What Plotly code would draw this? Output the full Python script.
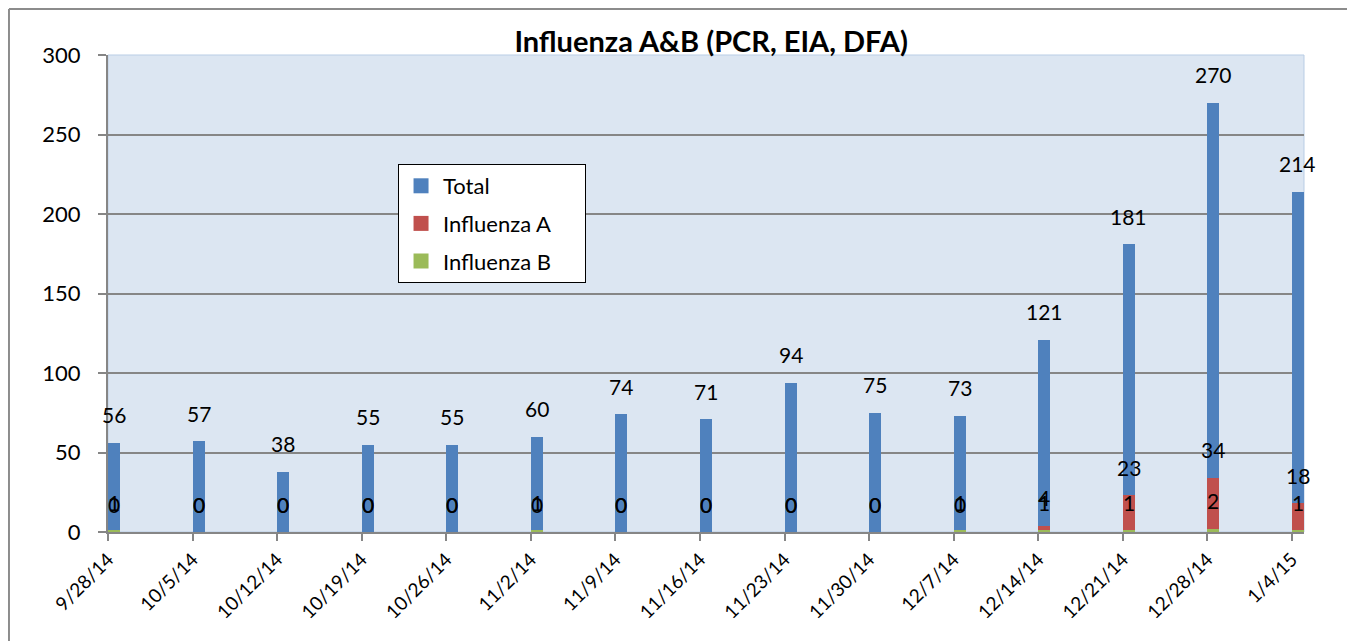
import plotly.graph_objects as go
import pandas as pd

# weekly data
weeks = ["2014-09-28", "2014-10-05", "2014-10-12", "2014-10-19", "2014-10-26",
         "2014-11-02", "2014-11-09", "2014-11-16", "2014-11-23", "2014-11-30",
         "2014-12-07", "2014-12-14", "2014-12-21", "2014-12-28", "2015-01-04"]
week_labels = ["9/28/14", "10/5/14", "10/12/14", "10/19/14", "10/26/14",
               "11/2/14", "11/9/14", "11/16/14", "11/23/14", "11/30/14",
               "12/7/14", "12/14/14", "12/21/14", "12/28/14", "1/4/15"]
total = [56, 57, 38, 55, 55, 60, 74, 71, 94, 75, 73, 121, 181, 270, 214]
flu_a = [0, 0, 0, 0, 0, 0, 0, 0, 0, 0, 0, 4, 23, 34, 18]
flu_b = [1, 0, 0, 0, 0, 1, 0, 0, 0, 0, 1, 1, 1, 2, 1]
y_ticks = [0, 50, 100, 150, 200, 250, 300]

dates = pd.to_datetime(weeks)
centers = dates + pd.Timedelta(hours=12)   # bar sits on its day slot
day_ms = 86400000

FONT = "Lato, Open Sans, sans-serif"

fig = go.Figure()
series = [("Total", total, "#4F81BD"),
          ("Influenza A", flu_a, "#C0504D"),
          ("Influenza B", flu_b, "#9BBB59")]
for name, vals, color in series:
    fig.add_trace(go.Bar(
        x=centers, y=vals, name=name, width=day_ms,
        marker=dict(color=color, line=dict(width=0)),
        showlegend=False,
    ))

# legend entries with bigger square swatches
for name, vals, color in series:
    fig.add_trace(go.Scatter(
        x=[None], y=[None], mode="markers", name=name + "&nbsp;&nbsp;&nbsp;&nbsp;&nbsp;",
        marker=dict(symbol="square", size=15, color=color),
        legendgroup=name,
    ))

# data labels (Excel style, sitting well above bar tops)
annotations = []
for name, vals, color in series:
    for xc, v in zip(centers, vals):
        annotations.append(dict(
            x=xc, y=v, xref="x", yref="y", text=str(v), showarrow=False,
            yshift=28, yanchor="middle", font=dict(size=21, color="black", family=FONT),
        ))

# outer chart frame
frame = dict(type="line", xref="paper", yref="paper", line=dict(color="#8C8C8C", width=2))
shapes = [
    dict(frame, x0=-0.0828, x1=-0.0828, y0=1.0964, y1=-0.25),
    dict(frame, x0=-0.0828, x1=1.0401, y0=1.0964, y1=1.0964),
    dict(frame, x0=1.0401, x1=1.0401, y0=1.0964, y1=-0.25),
    # plot area light border
    dict(type="rect", xref="paper", yref="paper", x0=0, x1=1, y0=0, y1=1,
         line=dict(color="#B9CDE5", width=1), layer="below"),
]

fig.update_layout(
    width=1347, height=633,
    margin=dict(l=100, r=51, t=47, b=109),
    paper_bgcolor="white", plot_bgcolor="#DCE6F2",
    font=dict(family=FONT, size=21, color="black"),
    title=dict(text="<b>Influenza A&B (PCR, EIA, DFA)</b>", x=0.522, xref="container",
               y=0.9463, yref="container", xanchor="center", yanchor="middle",
               font=dict(size=29, family=FONT)),
    barmode="overlay",
    bargap=0,
    showlegend=True,
    legend=dict(x=0.2425, y=0.7715, xanchor="left", yanchor="top",
                bgcolor="white", bordercolor="black", borderwidth=1,
                font=dict(size=22), traceorder="grouped", tracegroupgap=6,
                itemwidth=34),
    xaxis=dict(
        type="date", range=[dates[0], dates[-1] + pd.Timedelta(days=1)],
        tickvals=dates, ticktext=week_labels, tickangle=-45,
        tickfont=dict(size=19), showgrid=False,
        showline=True, linecolor="#868686", linewidth=2,
        ticks="outside", ticklen=7, tickcolor="#868686", tickwidth=2,
    ),
    yaxis=dict(
        range=[0, 300], tickvals=y_ticks, tickfont=dict(size=22),
        showgrid=True, gridcolor="#868686", gridwidth=2,
        showline=True, linecolor="#868686", linewidth=2,
        ticks="outside", ticklen=8, tickcolor="#868686", tickwidth=2,
        ticklabelstandoff=13, zeroline=False,
    ),
    annotations=annotations,
    shapes=shapes,
)

fig.write_html("out.html")
